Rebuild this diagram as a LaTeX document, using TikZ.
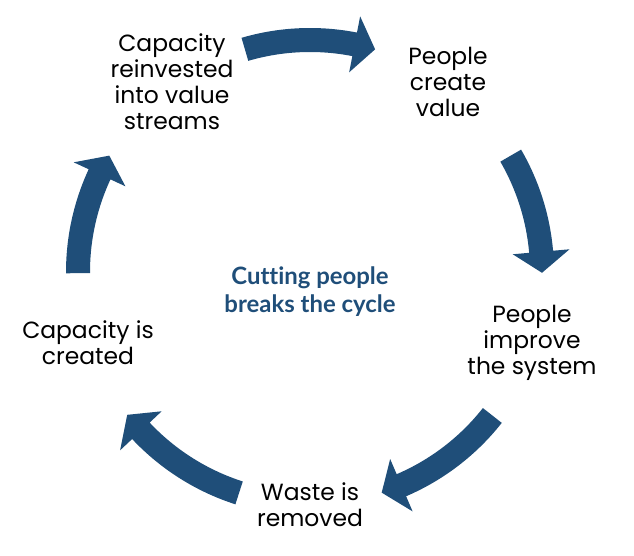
\documentclass[tikz,border=0pt]{standalone}
\usepackage{fontspec}
\setmainfont{Poppins}
\newfontfamily\boldfam[Ligatures=NoCommon]{Lato}
\definecolor{cycblue}{HTML}{1F4E79}
\tikzset{
  x=1bp, y=1bp,
  label/.style={align=center, font=\fontsize{23.5}{26}\selectfont, text=black, inner sep=0pt},
  centerlabel/.style={align=center, font=\boldfam\bfseries\fontsize{24}{28}\selectfont, text=cycblue, inner sep=0pt},
  cycarrow/.style={fill=cycblue, draw=none}
}
\newcommand\cycarr[2]{% tail angle, tip angle (clockwise)
  \pgfmathsetmacro\hb{#2+5.2}
  \fill[cycarrow] (#1:244) arc[start angle=#1, end angle=\hb, radius=244]
    -- (\hb:260.5) -- (#2:232) -- (\hb:203.5) -- (\hb:220)
    arc[start angle=\hb, end angle=#1, radius=220] -- cycle;
}
\begin{document}
\begin{tikzpicture}
\useasboundingbox (0,0) rectangle (634,556);
\coordinate (C) at (310,284);
\node[label] (reinvest) at (172,474) {Capacity\\reinvested\\into value\\streams};
\node[label] (create) at (448,474) {People\\create\\value};
\node[label] (improve) at (532,213) {People\\improve\\the system};
\node[label] (waste) at (310,51) {Waste is\\removed};
\node[label] (created) at (88,213) {Capacity is\\created};
\node[centerlabel] (cut) at (310,264) {Cutting people\\breaks the cycle};
\begin{scope}[shift={(C)}]
  \cycarr{106.3}{73.7}
  \cycarr{30.1}{-0.2}
  \cycarr{-38.2}{-72}
  \cycarr{-107.8}{-142}
  \cycarr{180.3}{149.9}
\end{scope}
\end{tikzpicture}
\end{document}
